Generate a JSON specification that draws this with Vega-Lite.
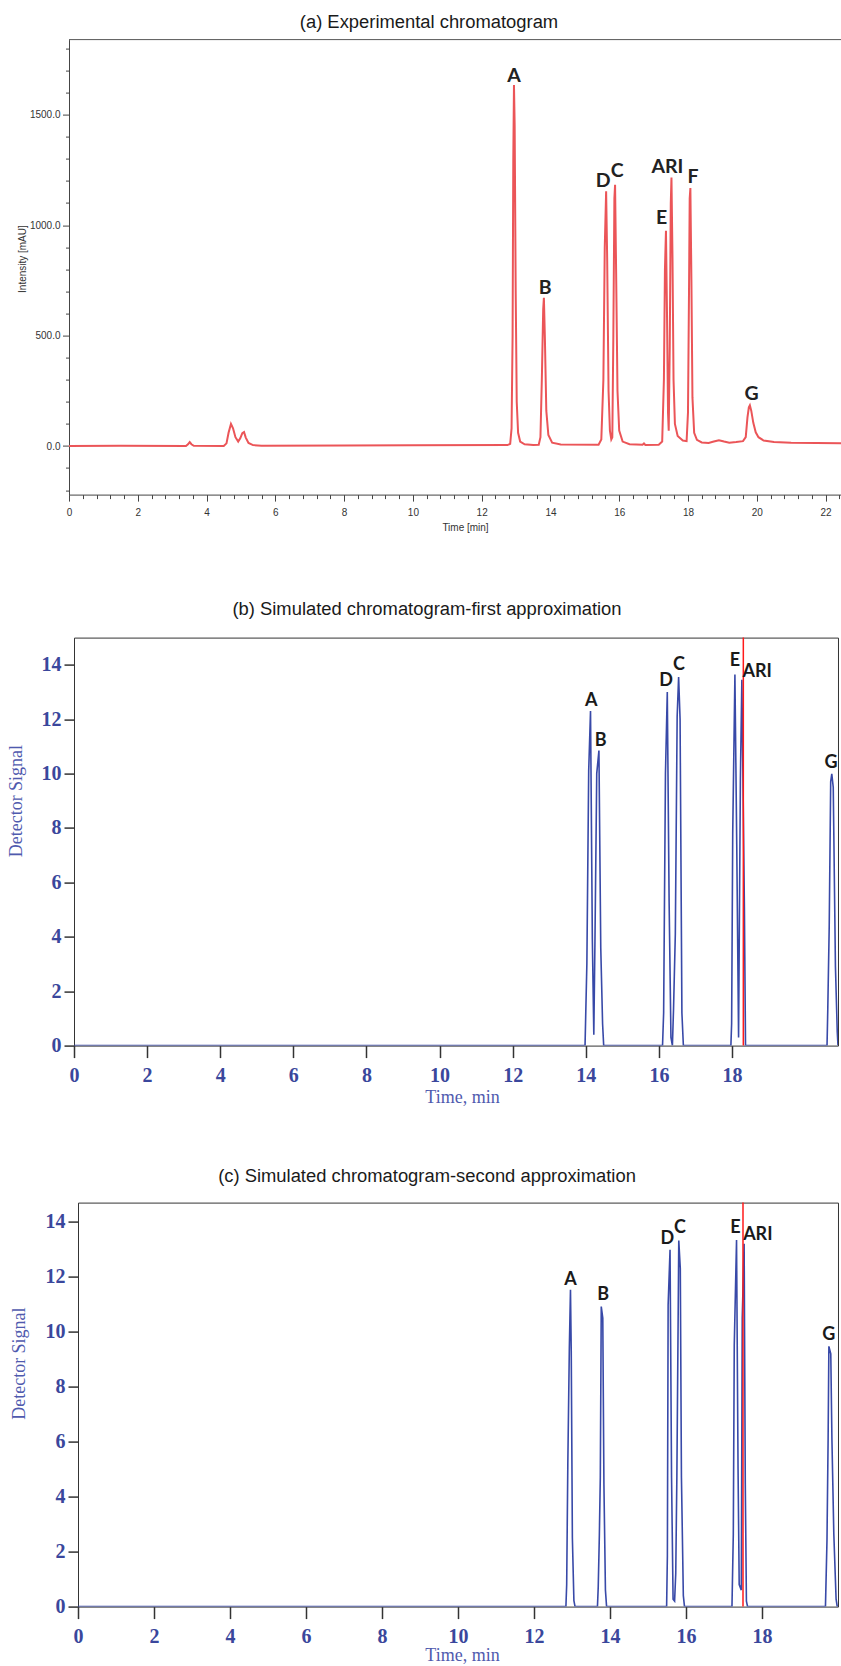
{
  "$schema": "https://vega.github.io/schema/vega-lite/v6.json",
  "padding": {"left": 7, "top": 12.6, "right": 0, "bottom": 0},
  "background": "white",
  "config": {
    "view": {"stroke": "#333", "strokeWidth": 1},
    "axis": {"grid": false, "labelFlush": false, "labelOverlap": false},
    "title": {"font": "Liberation Sans", "fontWeight": "normal", "fontSize": 18.4, "color": "#1a1a1a", "anchor": "middle", "baseline": "alphabetic", "frame": "group"}
  },
  "datasets": {
    "exp": [
      {"t": 0, "v": 0}, {"t": 1.5, "v": 1}, {"t": 3.4, "v": 0}, {"t": 3.46, "v": 8}, {"t": 3.51, "v": 18}, {"t": 3.56, "v": 8}, {"t": 3.63, "v": 1},
      {"t": 4.5, "v": 0}, {"t": 4.58, "v": 12}, {"t": 4.64, "v": 60}, {"t": 4.71, "v": 100}, {"t": 4.77, "v": 80}, {"t": 4.84, "v": 40}, {"t": 4.92, "v": 20},
      {"t": 4.98, "v": 35}, {"t": 5.04, "v": 58}, {"t": 5.09, "v": 63}, {"t": 5.14, "v": 38}, {"t": 5.22, "v": 14}, {"t": 5.35, "v": 4}, {"t": 5.6, "v": 1},
      {"t": 8.0, "v": 2}, {"t": 10.0, "v": 3}, {"t": 12.75, "v": 4}, {"t": 12.83, "v": 10}, {"t": 12.87, "v": 80}, {"t": 12.9, "v": 500}, {"t": 12.92, "v": 1300},
      {"t": 12.94, "v": 1634}, {"t": 12.96, "v": 1450}, {"t": 12.99, "v": 700}, {"t": 13.02, "v": 200}, {"t": 13.06, "v": 60}, {"t": 13.12, "v": 20}, {"t": 13.25, "v": 8},
      {"t": 13.5, "v": 5}, {"t": 13.66, "v": 6}, {"t": 13.71, "v": 40}, {"t": 13.75, "v": 300}, {"t": 13.79, "v": 620}, {"t": 13.81, "v": 671}, {"t": 13.84, "v": 480},
      {"t": 13.88, "v": 160}, {"t": 13.94, "v": 50}, {"t": 14.05, "v": 15}, {"t": 14.3, "v": 7}, {"t": 15.4, "v": 6}, {"t": 15.48, "v": 30}, {"t": 15.54, "v": 300},
      {"t": 15.58, "v": 900}, {"t": 15.62, "v": 1153}, {"t": 15.65, "v": 850}, {"t": 15.69, "v": 250}, {"t": 15.73, "v": 70}, {"t": 15.77, "v": 30}, {"t": 15.8, "v": 40},
      {"t": 15.83, "v": 500}, {"t": 15.86, "v": 1120}, {"t": 15.88, "v": 1183}, {"t": 15.91, "v": 800}, {"t": 15.95, "v": 250}, {"t": 16.0, "v": 70}, {"t": 16.1, "v": 20},
      {"t": 16.3, "v": 8}, {"t": 16.68, "v": 6}, {"t": 16.72, "v": 12}, {"t": 16.76, "v": 5}, {"t": 17.15, "v": 6}, {"t": 17.25, "v": 20}, {"t": 17.3, "v": 300},
      {"t": 17.33, "v": 800}, {"t": 17.36, "v": 975}, {"t": 17.39, "v": 600}, {"t": 17.42, "v": 150}, {"t": 17.44, "v": 69}, {"t": 17.47, "v": 450}, {"t": 17.5, "v": 1100},
      {"t": 17.52, "v": 1216}, {"t": 17.55, "v": 850}, {"t": 17.58, "v": 300}, {"t": 17.62, "v": 100}, {"t": 17.7, "v": 45}, {"t": 17.85, "v": 25}, {"t": 17.96, "v": 22},
      {"t": 18.0, "v": 150}, {"t": 18.03, "v": 700}, {"t": 18.05, "v": 1120}, {"t": 18.07, "v": 1168}, {"t": 18.1, "v": 750}, {"t": 18.13, "v": 220}, {"t": 18.18, "v": 60},
      {"t": 18.26, "v": 28}, {"t": 18.4, "v": 16}, {"t": 18.6, "v": 14}, {"t": 18.75, "v": 20}, {"t": 18.9, "v": 26}, {"t": 19.05, "v": 20}, {"t": 19.2, "v": 15},
      {"t": 19.4, "v": 18}, {"t": 19.6, "v": 22}, {"t": 19.68, "v": 40}, {"t": 19.73, "v": 130}, {"t": 19.77, "v": 175}, {"t": 19.8, "v": 184}, {"t": 19.84, "v": 160},
      {"t": 19.9, "v": 105}, {"t": 19.97, "v": 62}, {"t": 20.05, "v": 40}, {"t": 20.2, "v": 25}, {"t": 20.5, "v": 18}, {"t": 21.0, "v": 15}, {"t": 22.45, "v": 13}
    ],
    "sim1": [
      {"t": 0, "v": 0}, {"t": 13.98, "v": 0}, {"t": 14.03, "v": 3.0}, {"t": 14.08, "v": 10.1}, {"t": 14.13, "v": 12.3}, {"t": 14.18, "v": 3.9}, {"t": 14.22, "v": 0.4},
      {"t": 14.25, "v": 3.7}, {"t": 14.3, "v": 10.0}, {"t": 14.36, "v": 10.85}, {"t": 14.41, "v": 3.6}, {"t": 14.46, "v": 0.8}, {"t": 14.49, "v": 0},
      {"t": 16.1, "v": 0}, {"t": 16.13, "v": 1.2}, {"t": 16.18, "v": 10.0}, {"t": 16.23, "v": 13.0}, {"t": 16.28, "v": 5.3}, {"t": 16.33, "v": 0.3}, {"t": 16.37, "v": 0},
      {"t": 16.4, "v": 1.3}, {"t": 16.45, "v": 4.1}, {"t": 16.5, "v": 12.1}, {"t": 16.54, "v": 13.55}, {"t": 16.58, "v": 12.0}, {"t": 16.63, "v": 1.2}, {"t": 16.67, "v": 0},
      {"t": 17.97, "v": 0}, {"t": 17.99, "v": 0.8}, {"t": 18.02, "v": 7.8}, {"t": 18.08, "v": 13.64}, {"t": 18.13, "v": 7.4}, {"t": 18.18, "v": 0.3},
      {"t": 18.23, "v": 9.8}, {"t": 18.27, "v": 13.45}, {"t": 18.34, "v": 5.0}, {"t": 18.37, "v": 0},
      {"t": 20.6, "v": 0}, {"t": 20.62, "v": 1.3}, {"t": 20.66, "v": 4.4}, {"t": 20.7, "v": 9.7}, {"t": 20.73, "v": 9.99}, {"t": 20.77, "v": 9.5}, {"t": 20.83, "v": 2.9},
      {"t": 20.88, "v": 0.5}, {"t": 20.9, "v": 0}
    ],
    "sim2": [
      {"t": 0, "v": 0}, {"t": 12.84, "v": 0}, {"t": 12.86, "v": 0.8}, {"t": 12.89, "v": 5.17}, {"t": 12.93, "v": 9.41}, {"t": 12.96, "v": 11.53}, {"t": 12.98, "v": 9.3},
      {"t": 13.01, "v": 2.5}, {"t": 13.05, "v": 0.22}, {"t": 13.08, "v": 0},
      {"t": 13.67, "v": 0}, {"t": 13.69, "v": 0.7}, {"t": 13.72, "v": 2.6}, {"t": 13.745, "v": 4.7}, {"t": 13.77, "v": 10.92}, {"t": 13.81, "v": 10.5}, {"t": 13.84, "v": 4.45},
      {"t": 13.88, "v": 0.6}, {"t": 13.91, "v": 0},
      {"t": 15.49, "v": 0}, {"t": 15.51, "v": 1.85}, {"t": 15.53, "v": 10.98}, {"t": 15.58, "v": 12.98}, {"t": 15.62, "v": 4.69}, {"t": 15.66, "v": 0.27}, {"t": 15.7, "v": 0.2},
      {"t": 15.73, "v": 1.2}, {"t": 15.76, "v": 4.76}, {"t": 15.81, "v": 13.32}, {"t": 15.85, "v": 12.3}, {"t": 15.88, "v": 4.7}, {"t": 15.93, "v": 0.4}, {"t": 15.96, "v": 0},
      {"t": 17.21, "v": 0}, {"t": 17.245, "v": 2.64}, {"t": 17.27, "v": 9.5}, {"t": 17.33, "v": 13.34}, {"t": 17.37, "v": 5.0}, {"t": 17.4, "v": 0.8},
      {"t": 17.455, "v": 0.6}, {"t": 17.48, "v": 10.5}, {"t": 17.53, "v": 13.2}, {"t": 17.56, "v": 4.5}, {"t": 17.59, "v": 0.2}, {"t": 17.62, "v": 0},
      {"t": 19.67, "v": 0}, {"t": 19.71, "v": 2.4}, {"t": 19.74, "v": 6.1}, {"t": 19.76, "v": 9.47}, {"t": 19.81, "v": 9.2}, {"t": 19.84, "v": 6.1}, {"t": 19.89, "v": 2.64},
      {"t": 19.95, "v": 0.27}, {"t": 19.98, "v": 0}, {"t": 20.0, "v": 0}
    ],
    "labA": [
      {"t": 12.94, "v": 1675, "lab": "A"}, {"t": 13.85, "v": 716, "lab": "B"}, {"t": 15.53, "v": 1198, "lab": "D"}, {"t": 15.94, "v": 1243, "lab": "C"},
      {"t": 17.23, "v": 1032, "lab": "E"}, {"t": 17.4, "v": 1265, "lab": "ARI"}, {"t": 18.15, "v": 1218, "lab": "F"}, {"t": 19.85, "v": 237, "lab": "G"}
    ],
    "labB": [
      {"t": 14.15, "v": 12.68, "lab": "A"}, {"t": 14.41, "v": 11.21, "lab": "B"}, {"t": 16.2, "v": 13.42, "lab": "D"}, {"t": 16.55, "v": 14.0, "lab": "C"},
      {"t": 18.08, "v": 14.15, "lab": "E"}, {"t": 18.69, "v": 13.74, "lab": "ARI"}, {"t": 20.71, "v": 10.39, "lab": "G"}
    ],
    "labC": [
      {"t": 12.96, "v": 11.89, "lab": "A"}, {"t": 13.82, "v": 11.32, "lab": "B"}, {"t": 15.51, "v": 13.38, "lab": "D"}, {"t": 15.84, "v": 13.79, "lab": "C"},
      {"t": 17.3, "v": 13.79, "lab": "E"}, {"t": 17.89, "v": 13.53, "lab": "ARI"}, {"t": 19.76, "v": 9.87, "lab": "G"}
    ]
  },
  "spacing": 59,
  "vconcat": [
    {
      "spacing": 66,
      "vconcat": [
        {
          "width": 772,
          "height": 455,
          "view": {"stroke": null},
          "title": {"text": "(a) Experimental chromatogram", "dx": -26, "offset": 7.9},
          "resolve": {"axis": {"x": "independent", "y": "independent"}},
          "layer": [
            {
              "data": {"name": "exp"},
              "mark": {"type": "line", "color": "#EB5558", "strokeWidth": 2, "clip": true},
              "encoding": {
                "x": {
                  "field": "t", "type": "quantitative",
                  "scale": {"domain": [0, 22.45], "nice": false, "zero": false},
                  "axis": {
                    "orient": "bottom",
                    "values": [0, 2, 4, 6, 8, 10, 12, 14, 16, 18, 20, 22],
                    "format": "d",
                    "labelOverlap": false, "labelFlush": false,
                    "title": "Time [min]",
                    "titleFont": "Liberation Sans", "titleFontSize": 10, "titleFontWeight": "normal", "titleColor": "#333",
                    "titleX": 396, "titleY": 32.6, "titleBaseline": "middle",
                    "labelFont": "Liberation Sans", "labelFontSize": 10, "labelColor": "#333", "labelPadding": 6,
                    "tickSize": 6.5, "tickColor": "#444", "domainColor": "#444"
                  }
                },
                "y": {
                  "field": "v", "type": "quantitative",
                  "scale": {"domain": [-220, 1840], "nice": false, "zero": false},
                  "axis": {
                    "orient": "left",
                    "values": [0, 500, 1000, 1500],
                    "format": ".1f",
                    "labelOverlap": false, "labelFlush": false,
                    "title": "Intensity [mAU]",
                    "titleFont": "Liberation Sans", "titleFontSize": 10, "titleFontWeight": "normal", "titleColor": "#333",
                    "titleX": -47, "titleY": 219, "titleBaseline": "middle",
                    "labelFont": "Liberation Sans", "labelFontSize": 10, "labelColor": "#333", "labelPadding": 2.5,
                    "tickSize": 6.5, "tickColor": "#444", "domainColor": "#444"
                  }
                }
              }
            },
            {
              "data": {"values": [{"t": 0, "v": 1840}]},
              "mark": {"type": "rule", "color": "#555", "strokeWidth": 1},
              "encoding": {
                "y": {
                  "field": "v", "type": "quantitative",
                  "axis": {
                    "orient": "left",
                    "values": [-200, -100, 100, 200, 300, 400, 600, 700, 800, 900, 1100, 1200, 1300, 1400, 1600, 1700, 1800],
                    "labels": false, "title": null, "domain": false,
                    "tickSize": 3.5, "tickColor": "#444"
                  }
                }
              }
            },
            {
              "data": {"name": "labA"},
              "mark": {"type": "text", "font": "Lato", "fontWeight": "bold", "fontSize": 19.5, "color": "#222", "baseline": "middle", "align": "center"},
              "encoding": {
                "x": {
                  "field": "t", "type": "quantitative",
                  "axis": {
                    "orient": "bottom",
                    "values": [0.4, 0.8, 1.2, 1.6, 2.4, 2.8, 3.2, 3.6, 4.4, 4.8, 5.2, 5.6, 6.4, 6.8, 7.2, 7.6, 8.4, 8.8, 9.2, 9.6, 10.4, 10.8, 11.2, 11.6, 12.4, 12.8, 13.2, 13.6, 14.4, 14.8, 15.2, 15.6, 16.4, 16.8, 17.2, 17.6, 18.4, 18.8, 19.2, 19.6, 20.4, 20.8, 21.2, 21.6, 22.4],
                    "labels": false, "title": null, "domain": false,
                    "tickSize": 4, "tickColor": "#444"
                  }
                },
                "y": {"field": "v", "type": "quantitative", "axis": null},
                "text": {"field": "lab"}
              }
            }
          ]
        },
        {
          "hconcat": [
            {
              "width": 5, "height": 1,
              "view": {"stroke": null},
              "data": {"values": [{"s": ""}]},
              "mark": "text",
              "encoding": {"text": {"field": "s"}}
            },
            {
              "width": 764,
              "height": 408,
              "title": {"text": "(b) Simulated chromatogram-first approximation", "dx": -29, "offset": 18.4},
              "layer": [
                {
                  "data": {"name": "sim1"},
                  "mark": {"type": "line", "color": "#3849A8", "strokeWidth": 1.6, "clip": true},
                  "encoding": {
                    "x": {
                      "field": "t", "type": "quantitative",
                      "scale": {"domain": [0, 20.9], "nice": false, "zero": false},
                      "axis": {
                        "values": [0, 2, 4, 6, 8, 10, 12, 14, 16, 18], "format": "d",
                        "title": "Time, min",
                        "titleFont": "Liberation Serif", "titleFontSize": 18, "titleFontWeight": "normal", "titleColor": "#4F5AAE",
                        "titleX": 388, "titleY": 51.5, "titleBaseline": "middle",
                        "labelFont": "Liberation Serif", "labelFontSize": 20, "labelFontWeight": "bold", "labelColor": "#3A479C", "labelPadding": 8,
                        "tickSize": 12, "tickColor": "#333", "tickWidth": 1.5, "domain": false
                      }
                    },
                    "y": {
                      "field": "v", "type": "quantitative",
                      "scale": {"domain": [0, 15], "nice": false},
                      "axis": {
                        "values": [0, 2, 4, 6, 8, 10, 12, 14], "format": "d",
                        "title": "Detector Signal",
                        "titleFont": "Liberation Serif", "titleFontSize": 18, "titleFontWeight": "normal", "titleColor": "#4F5AAE",
                        "titleX": -57.5, "titleY": 163, "titleBaseline": "middle",
                        "labelFont": "Liberation Serif", "labelFontSize": 20, "labelFontWeight": "bold", "labelColor": "#3A479C", "labelPadding": 3,
                        "tickSize": 10, "tickColor": "#333", "tickWidth": 1.5, "domain": false
                      }
                    }
                  }
                },
                {
                  "data": {"values": [{"t": 18.31}]},
                  "mark": {"type": "rule", "color": "#FF1A1A", "strokeWidth": 1.5},
                  "encoding": {"x": {"field": "t", "type": "quantitative"}}
                },
                {
                  "data": {"name": "labB"},
                  "mark": {"type": "text", "font": "Lato", "fontWeight": "bold", "fontSize": 18, "color": "#1a1a1a", "baseline": "middle", "align": "center"},
                  "encoding": {
                    "x": {"field": "t", "type": "quantitative"},
                    "y": {"field": "v", "type": "quantitative"},
                    "text": {"field": "lab"}
                  }
                }
              ]
            }
          ],
          "spacing": 0,
          "bounds": "flush"
        }
      ]
    },
    {
      "hconcat": [
        {
          "width": 9, "height": 1,
          "view": {"stroke": null},
          "data": {"values": [{"s": ""}]},
          "mark": "text",
          "encoding": {"text": {"field": "s"}}
        },
        {
          "width": 760,
          "height": 404,
          "title": {"text": "(c) Simulated chromatogram-second approximation", "dx": -31, "offset": 16.7},
          "layer": [
            {
              "data": {"name": "sim2"},
              "mark": {"type": "line", "color": "#3849A8", "strokeWidth": 1.6, "clip": true},
              "encoding": {
                "x": {
                  "field": "t", "type": "quantitative",
                  "scale": {"domain": [0, 20.0], "nice": false, "zero": false},
                  "axis": {
                    "values": [0, 2, 4, 6, 8, 10, 12, 14, 16, 18], "format": "d",
                    "title": "Time, min",
                    "titleFont": "Liberation Serif", "titleFontSize": 18, "titleFontWeight": "normal", "titleColor": "#4F5AAE",
                    "titleX": 384, "titleY": 49, "titleBaseline": "middle",
                    "labelFont": "Liberation Serif", "labelFontSize": 20, "labelFontWeight": "bold", "labelColor": "#3A479C", "labelPadding": 8,
                    "tickSize": 12, "tickColor": "#333", "tickWidth": 1.5, "domain": false
                  }
                },
                "y": {
                  "field": "v", "type": "quantitative",
                  "scale": {"domain": [0, 14.7], "nice": false},
                  "axis": {
                    "values": [0, 2, 4, 6, 8, 10, 12, 14], "format": "d",
                    "title": "Detector Signal",
                    "titleFont": "Liberation Serif", "titleFontSize": 18, "titleFontWeight": "normal", "titleColor": "#4F5AAE",
                    "titleX": -58.2, "titleY": 160.5, "titleBaseline": "middle",
                    "labelFont": "Liberation Serif", "labelFontSize": 20, "labelFontWeight": "bold", "labelColor": "#3A479C", "labelPadding": 3,
                    "tickSize": 10, "tickColor": "#333", "tickWidth": 1.5, "domain": false
                  }
                }
              }
            },
            {
              "data": {"values": [{"t": 17.5}]},
              "mark": {"type": "rule", "color": "#FF1A1A", "strokeWidth": 1.5},
              "encoding": {"x": {"field": "t", "type": "quantitative"}}
            },
            {
              "data": {"name": "labC"},
              "mark": {"type": "text", "font": "Lato", "fontWeight": "bold", "fontSize": 18, "color": "#1a1a1a", "baseline": "middle", "align": "center"},
              "encoding": {
                "x": {"field": "t", "type": "quantitative"},
                "y": {"field": "v", "type": "quantitative"},
                "text": {"field": "lab"}
              }
            }
          ]
        }
      ],
      "spacing": 0,
      "bounds": "flush"
    }
  ]
}
